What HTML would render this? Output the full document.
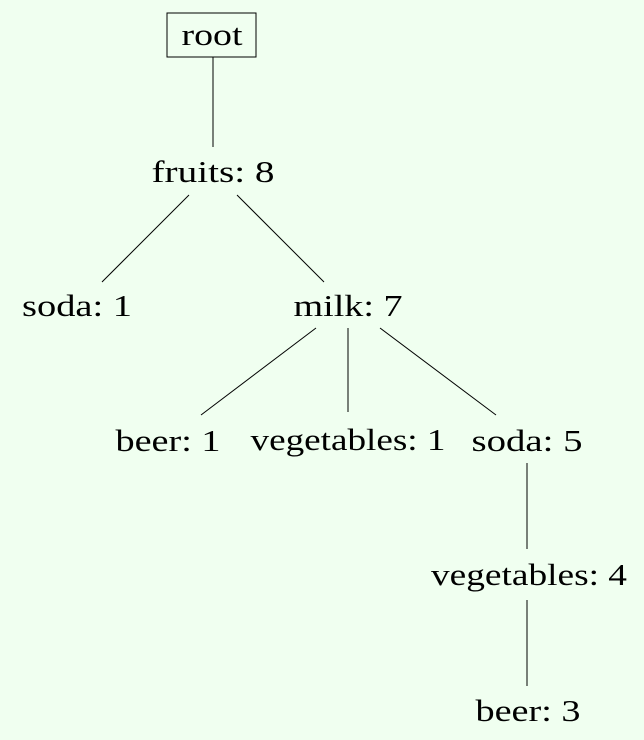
<!DOCTYPE html>
<html>
<head>
<meta charset="utf-8">
<style>
  html, body { margin: 0; padding: 0; background: #F0FFF0; }
  svg { display: block; }
  text { font-family: "Liberation Serif", "DejaVu Serif", serif; font-size: 31px; fill: #000; }
</style>
</head>
<body>
<svg id="tree" width="644" height="740" xmlns="http://www.w3.org/2000/svg">
  <rect width="644" height="740" fill="#F0FFF0"></rect>
  <rect x="167" y="13" width="89" height="44" fill="none" stroke="#000" stroke-width="1"></rect>
</svg>
<script>
const nodeLabels = ["root", "fruits: 8", "soda: 1", "milk: 7", "beer: 1", "vegetables: 1", "soda: 5", "vegetables: 4", "beer: 3"];
const nodeX = [212, 213, 77, 348, 168, 348, 527, 529, 528];
const nodeY = [35, 172, 306, 306, 441, 440, 441, 575, 711];
const nodeWidths = [61, 123, 110, 109, 105, 195, 111, 196, 105];
const edges = [[0,1],[1,2],[1,3],[3,4],[3,5],[3,6],[6,7],[7,8]];
const edgeCoords = [
  [213,57,213,147],[189,195,102,282],[237,195,324,282],
  [316,328,201,415],[348,328,348,412],[380,328,496,415],
  [527,463,527,549],[527,600,527,686]
];
const svg = document.getElementById('tree');
const NS = 'http://www.w3.org/2000/svg';
edgeCoords.forEach((c, i) => {
  const l = document.createElementNS(NS, 'line');
  l.setAttribute('x1', c[0]); l.setAttribute('y1', c[1]);
  l.setAttribute('x2', c[2]); l.setAttribute('y2', c[3]);
  l.setAttribute('stroke', '#000'); l.setAttribute('stroke-width', '1');
  
  
  svg.appendChild(l);
});
nodeLabels.forEach((lab, i) => {
  const t = document.createElementNS(NS, 'text');
  t.setAttribute('x', nodeX[i]); t.setAttribute('y', nodeY[i] + 10);
  t.setAttribute('text-anchor', 'middle');
  t.setAttribute('textLength', nodeWidths[i]);
  t.setAttribute('lengthAdjust', 'spacingAndGlyphs');
  t.textContent = lab;
  
  
  svg.appendChild(t);
});
</script>
</body>
</html>
